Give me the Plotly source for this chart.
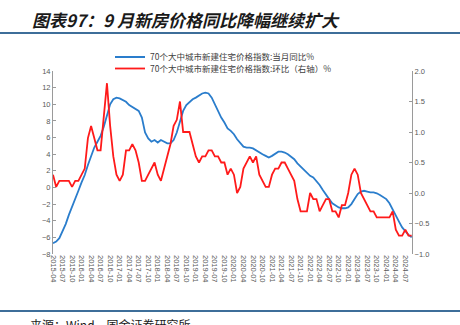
import pandas as pd
import plotly.graph_objects as go

months = pd.date_range("2015-04-01", periods=114, freq="MS").strftime("%Y-%m").tolist()

yoy = [
    -6.7, -6.5, -6.1, -5.3, -4.4, -3.3, -2.4, -1.5, -0.4, 0.6,
    1.5, 2.7, 3.8, 4.8, 5.5, 6.2, 7.3, 8.8, 10.0, 10.6,
    10.8, 10.7, 10.5, 10.3, 9.9, 9.7, 9.5, 9.2, 8.4, 6.6,
    5.9, 5.5, 5.7, 5.4, 5.7, 5.5, 5.3, 5.3, 5.7, 6.6,
    8.0, 9.2, 9.9, 10.3, 10.6, 10.8, 11.1, 11.3, 11.4, 11.3,
    10.8, 10.0, 9.0, 8.4, 7.8, 7.1, 6.8, 6.4, 5.8, 5.3,
    4.9, 4.8, 4.8, 4.7, 4.5, 4.3, 4.0, 3.8, 3.6, 3.8,
    4.1, 4.3, 4.3, 4.2, 4.0, 3.7, 3.4, 2.9, 2.5, 2.1,
    1.8, 1.4, 1.2, 0.8, 0.3, -0.3, -0.9, -1.4, -1.9, -2.2,
    -2.4, -2.5, -2.5, -2.4, -2.0, -1.4, -0.8, -0.5, -0.4, -0.5,
    -0.6, -0.6, -0.7, -0.9, -1.1, -1.4, -1.9, -2.7, -3.3, -4.1,
    -4.8, -5.3, -5.7, -6.0,
]

mom = [
    0.3, 0.1, 0.2, 0.2, 0.2, 0.2, 0.1, 0.2, 0.2, 0.3,
    0.4, 0.9, 1.1, 0.9, 0.7, 0.7, 1.2, 1.8, 1.1, 0.6,
    0.3, 0.2, 0.3, 0.7, 0.7, 0.8, 0.7, 0.5, 0.2, 0.2,
    0.3, 0.4, 0.5, 0.3, 0.2, 0.4, 0.6, 0.8, 1.1, 1.2,
    1.5, 1.0, 1.0, 1.0, 0.8, 0.6, 0.5, 0.6, 0.6, 0.7,
    0.7, 0.6, 0.6, 0.5, 0.5, 0.3, 0.4, 0.3, 0.0, 0.1,
    0.4, 0.5, 0.6, 0.5, 0.6, 0.3, 0.2, 0.1, 0.1, 0.3,
    0.4, 0.4, 0.5, 0.5, 0.4, 0.3, 0.2, -0.1, -0.3, -0.3,
    -0.3, 0.0, -0.1, -0.1, -0.3, -0.2, -0.1, -0.1, -0.3, -0.3,
    -0.4, -0.2, -0.2, 0.0, 0.3, 0.4, 0.3, 0.0, -0.1, -0.2,
    -0.3, -0.3, -0.4, -0.4, -0.4, -0.4, -0.4, -0.3, -0.6, -0.7,
    -0.7, -0.6, -0.7, -0.7,
]

name_yoy = "70个大中城市新建住宅价格指数:当月同比%"
name_mom = "70个大中城市新建住宅价格指数:环比（右轴）%"
title_text = "图表97：9 月新房价格同比降幅继续扩大"
source_text = "来源：Wind，国金证券研究所"

left_ticks = list(range(-8, 15, 2))
right_ticks = [-1.0, -0.5, 0.0, 0.5, 1.0, 1.5, 2.0]

# layout geometry (pixels)
W, H = 460, 325
L, R, T, B = 53, 48, 71, 71
PW, PH = W - L - R, H - T - B


def px_x(x):
    return (x - L) / PW


def px_y(y):
    return (H - B - y) / PH


AX = "#9a9a9a"
TXT = "#595959"
CJK = "Noto Sans CJK SC"
leg_font = dict(family=CJK, size=8.5, color="#404040")

fig = go.Figure()
fig.add_trace(go.Scatter(x=months, y=yoy, name=name_yoy, mode="lines",
                         line=dict(color="#2a7dcc", width=1.8), yaxis="y",
                         legend="legend"))
fig.add_trace(go.Scatter(x=months, y=mom, name=name_mom, mode="lines",
                         line=dict(color="#ff1a1a", width=1.8), yaxis="y2",
                         legend="legend2"))

fig.update_layout(
    width=W, height=H,
    margin=dict(l=L, r=R, t=T, b=B),
    paper_bgcolor="white", plot_bgcolor="white",
    font=dict(family="Liberation Sans, Arial", color=TXT, size=8),
    showlegend=True,
    legend=dict(x=px_x(110), y=px_y(57), xanchor="left", yanchor="middle",
                font=leg_font, bgcolor="rgba(0,0,0,0)", itemwidth=30,
                borderwidth=0),
    legend2=dict(x=px_x(110), y=px_y(68.5), xanchor="left", yanchor="middle",
                 font=leg_font, bgcolor="rgba(0,0,0,0)", itemwidth=30,
                 borderwidth=0),
    xaxis=dict(type="category", range=[0, len(months) - 0.9],
               tickvals=months[::3], ticktext=months[::3], tickangle=90,
               tickfont=dict(size=7.5, color=TXT), showline=False,
               showgrid=False, zeroline=False, ticks=""),
    xaxis2=dict(overlaying="x", anchor="free",
                position=(0 - left_ticks[0]) / (left_ticks[-1] + 2 - left_ticks[0]),
                range=[0, len(months) - 0.9], showline=True, linecolor=AX,
                linewidth=1, ticks="inside", ticklen=3, tickcolor=AX,
                tick0=0, dtick=4, showticklabels=False, showgrid=False,
                zeroline=False, side="bottom"),
    yaxis=dict(range=[-8, 14], tickvals=left_ticks, ticks="inside", ticklen=3,
               tickcolor=AX, showline=True, linecolor=AX, showgrid=False,
               zeroline=False, tickfont=dict(size=7.5, color=TXT)),
    yaxis2=dict(range=[-1, 2], tickvals=right_ticks, tickformat=".1f",
                overlaying="y", side="right", ticks="inside", ticklen=3,
                tickcolor=AX, showline=True, linecolor=AX, showgrid=False,
                zeroline=False, tickfont=dict(size=7.5, color=TXT)),
    shapes=[
        dict(type="line", xref="paper", yref="paper", x0=px_x(0), x1=px_x(W),
             y0=px_y(33), y1=px_y(33), line=dict(color="#3d6e99", width=2)),
        dict(type="line", xref="paper", yref="paper", x0=px_x(0), x1=px_x(W),
             y0=px_y(311), y1=px_y(311), line=dict(color="#3d6e99", width=2)),
    ],
    annotations=[
        dict(text="<b><i>" + title_text + "</i></b>", xref="paper", yref="paper",
             x=px_x(30), y=px_y(20), xanchor="left", yanchor="middle",
             showarrow=False, font=dict(family=CJK, size=17, color="#1a1a1a")),
        dict(text=source_text, xref="paper", yref="paper",
             x=px_x(28), y=px_y(324), xanchor="left", yanchor="middle",
             showarrow=False, font=dict(family=CJK, size=12, color="#1a1a1a")),
    ],
)

fig.write_html("out.html")
